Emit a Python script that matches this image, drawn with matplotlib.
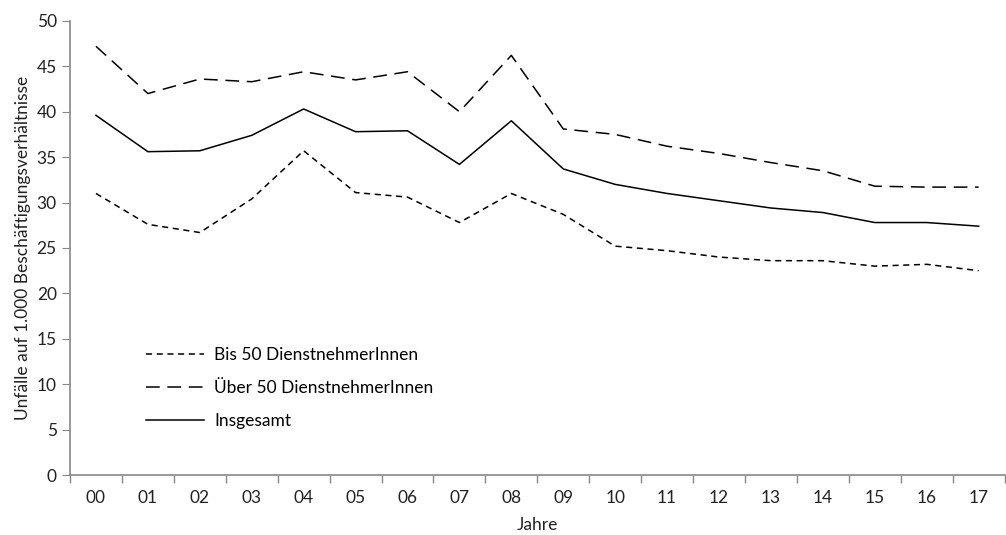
import matplotlib
matplotlib.use("Agg")
import matplotlib.pyplot as plt
from matplotlib.ticker import FixedLocator

plt.rcParams['font.family'] = ['Lato', 'DejaVu Sans']

years = ["00", "01", "02", "03", "04", "05", "06", "07", "08", "09",
         "10", "11", "12", "13", "14", "15", "16", "17"]
bis50 = [31.0, 27.6, 26.7, 30.4, 35.7, 31.1, 30.6, 27.8, 31.0, 28.7,
         25.2, 24.7, 24.0, 23.6, 23.6, 23.0, 23.2, 22.5]
ueber50 = [47.2, 42.0, 43.6, 43.3, 44.4, 43.5, 44.4, 40.0, 46.2, 38.1,
           37.5, 36.2, 35.4, 34.4, 33.5, 31.8, 31.7, 31.7]
gesamt = [39.6, 35.6, 35.7, 37.4, 40.3, 37.8, 37.9, 34.2, 39.0, 33.7,
          32.0, 31.0, 30.2, 29.4, 28.9, 27.8, 27.8, 27.4]
labels = ["Bis 50 DienstnehmerInnen", "Über 50 DienstnehmerInnen", "Insgesamt"]

fig = plt.figure(figsize=(10.06, 5.35), dpi=100)
ax = fig.add_axes([0.0696, 0.112, 0.929, 0.849])

x = list(range(len(years)))
ax.plot(x, bis50, color='black', lw=1.1, linestyle=(0, (4, 3)), label=labels[0])
ax.plot(x, ueber50, color='black', lw=1.1, linestyle=(0, (9, 5)), label=labels[1])
ax.plot(x, gesamt, color='black', lw=1.1, linestyle='-', label=labels[2])

ax.set_xlim(-0.5, len(years) - 0.5)
ax.set_ylim(0, 50)
ax.set_yticks(range(0, 51, 5))
ax.set_xticks(x)
ax.set_xticklabels(years)
ax.xaxis.set_minor_locator(FixedLocator([i - 0.5 for i in range(len(years) + 1)]))
ax.tick_params(axis='x', which='major', length=0, pad=11, labelsize=12.5, colors='#222222')
ax.tick_params(axis='x', which='minor', length=6, color='#888888', width=1)
ax.tick_params(axis='y', length=6, color='#888888', labelsize=12.5, labelcolor='#222222')

for s in ['top', 'right']:
    ax.spines[s].set_visible(False)
for s in ['left', 'bottom']:
    ax.spines[s].set_color('#888888')
    ax.spines[s].set_linewidth(1.2)

ax.set_xlabel("Jahre", fontsize=12.5, color='#222222', labelpad=8)
ax.set_ylabel("Unfälle auf 1.000 Beschäftigungsverhältnisse", fontsize=12.5, color='#222222', labelpad=4)

leg = ax.legend(loc='lower left', bbox_to_anchor=(0.065, 0.066), frameon=False,
                fontsize=12.5, handlelength=3.3, handletextpad=0.6, labelspacing=0.98)

fig.savefig("out.png", dpi=100)
